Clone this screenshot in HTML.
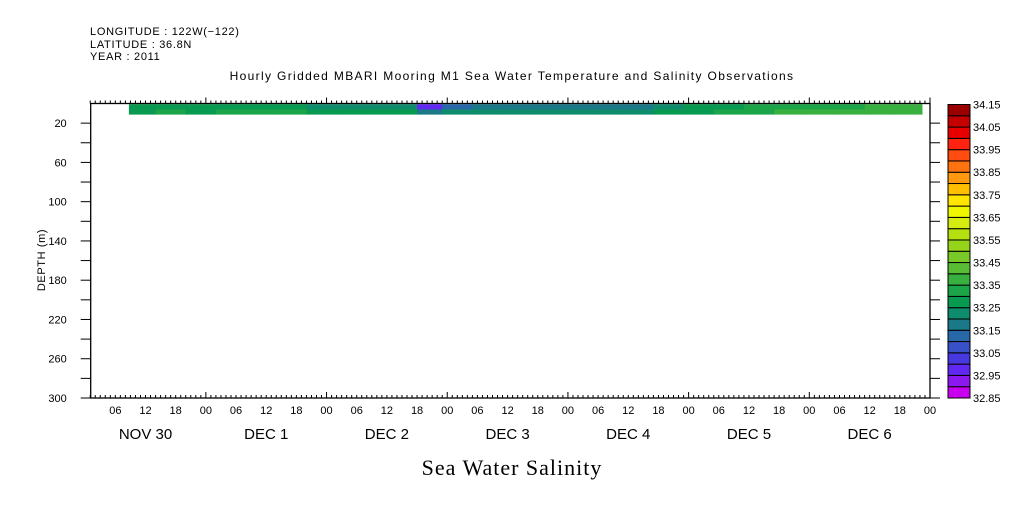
<!DOCTYPE html>
<html><head><meta charset="utf-8"><style>
body{margin:0;background:#fff;width:1009px;height:504px;overflow:hidden}
svg text{font-family:"Liberation Sans",sans-serif;fill:#000}
</style></head><body>
<svg id="chart" width="1009" height="504" viewBox="0 0 1009 504" xmlns="http://www.w3.org/2000/svg">
<g font-size="11" letter-spacing="0.7">
<text x="90" y="35">LONGITUDE : 122W(−122)</text>
<text x="90" y="48">LATITUDE : 36.8N</text>
<text x="90" y="60">YEAR : 2011</text>
</g>
<text x="512" y="80" text-anchor="middle" font-size="12" letter-spacing="1.35">Hourly Gridded MBARI Mooring M1 Sea Water Temperature and Salinity Observations</text>
<text x="512" y="475" text-anchor="middle" font-size="22" letter-spacing="1" style="font-family:'Liberation Serif',serif">Sea Water Salinity</text>
<text transform="translate(45,260) rotate(-90)" text-anchor="middle" font-size="11" letter-spacing="0.6">DEPTH (m)</text>
<g id="cells"></g><g id="axes"></g><g id="cbar"></g>
</svg>
<script>
// hours since Nov 30 00:00
const cellStart = [8.7,14,20,26,32,38,44,50,56,66,71,77,83,89,95,101,107,113,119,125,131,137,143,149,155,161];
const cellEnd = 166.4;
const salTop = [33.27,33.27,33.27,33.27,33.27,33.27,33.24,33.22,33.22,32.98,33.12,33.18,33.18,33.18,33.17,33.17,33.18,33.2,33.26,33.28,33.31,33.33,33.34,33.34,33.36,33.38];
const salBot = [33.27,33.32,33.27,33.32,33.32,33.32,33.27,33.27,33.26,33.18,33.2,33.2,33.22,33.22,33.22,33.22,33.23,33.26,33.28,33.31,33.33,33.36,33.37,33.37,33.38,33.39];
const depthTop = [0.7,6]; const depthBot = [6,11];
const levels = [32.85,32.9,32.95,33.0,33.05,33.1,33.15,33.2,33.25,33.3,33.35,33.4,33.45,33.5,33.55,33.6,33.65,33.7,33.75,33.8,33.85,33.9,33.95,34.0,34.05,34.1,34.15];
const colors = ["#c800f0","#8c18f0","#6028f0","#4838e0","#3850c8","#2868a8","#1a7888","#0e8c6c","#089a50","#1ca448","#38b040","#58bc34","#78c828","#96d41c","#b4e010","#d4ec10","#eef600","#ffe600","#ffbe00","#ff9a10","#ff7210","#ff4c10","#ff2412","#e80000","#c50000","#9b0000"];
const cbLabels = ["32.85","32.95","33.05","33.15","33.25","33.35","33.45","33.55","33.65","33.75","33.85","33.95","34.05","34.15"];
const dayNames = ["NOV 30","DEC  1","DEC  2","DEC  3","DEC  4","DEC  5","DEC  6"];
const depthTicks = [20,60,100,140,180,220,260,300];

const NS="http://www.w3.org/2000/svg";
const L=90.7,R=930,T=103.5,B=398, h0=1.1,h1=168, d0=0,d1=300;
const X=h=>L+(h-h0)/(h1-h0)*(R-L);
const Y=d=>T+(d-d0)/(d1-d0)*(B-T);
function mk(tag,attrs,parent){const e=document.createElementNS(NS,tag);for(const k in attrs)e.setAttribute(k,attrs[k]);parent.appendChild(e);return e;}
function col(v){let i=Math.floor((v-levels[0])/0.05);i=Math.max(0,Math.min(colors.length-1,i));return colors[i];}
const cg=document.getElementById('cells');
cellStart.forEach((s,k)=>{const e=k<cellStart.length-1?cellStart[k+1]:cellEnd;
 [salTop,salBot].forEach((arr,r)=>{
  const rc=mk('rect',{x:X(s),y:Y(depthTop[r]),width:X(e)-X(s)+0.5,height:Y(depthBot[r])-Y(depthTop[r])+0.3,fill:col(arr[k])},cg);
  
  
 });});
const ax=document.getElementById('axes');
const fr=mk('rect',{x:L,y:T,width:R-L,height:B-T,fill:'none',stroke:'#000','stroke-width':1.3},ax);


for(let h=1;h<=168;h++){const x=X(h);const maj=h%24===0;const len=maj?6:3;
 mk('line',{x1:x,y1:B,x2:x,y2:B-len,stroke:'#000'},ax);
 mk('line',{x1:x,y1:T,x2:x,y2:T-len,stroke:'#000'},ax);
 if(h%6===0){const t=mk('text',{x:x,y:B+16,'text-anchor':'middle','font-size':11},ax);t.textContent=String(h%24).padStart(2,'0');
  
  }}
dayNames.forEach((n,i)=>{const t=mk('text',{x:X(i*24+12),y:B+41,'text-anchor':'middle','font-size':15,'xml:space':'preserve'},ax);t.textContent=n;
 
 });
for(let d=20;d<=300;d+=20){const y=Y(d);
 mk('line',{x1:L-10,y1:y,x2:L,y2:y,stroke:'#000'},ax);
 mk('line',{x1:R,y1:y,x2:R+10,y2:y,stroke:'#000'},ax);}
depthTicks.forEach(d=>{const t=mk('text',{x:L-24,y:Y(d)+4,'text-anchor':'end','font-size':11},ax);t.textContent=d;
 
 });
const cb=document.getElementById('cbar');
const cx=948,cw=22,cT=104.5,cB=398,bh=(cB-cT)/colors.length;
colors.forEach((c,i)=>{const r=mk('rect',{x:cx,y:cB-(i+1)*bh,width:cw,height:bh,fill:c,stroke:'#000','stroke-width':1},cb);
 
 });
cbLabels.forEach((l,i)=>{const t=mk('text',{x:cx+cw+3,y:cB-i*2*bh+4,'font-size':11},cb);t.textContent=l;
 
 });
</script>
</body></html>
